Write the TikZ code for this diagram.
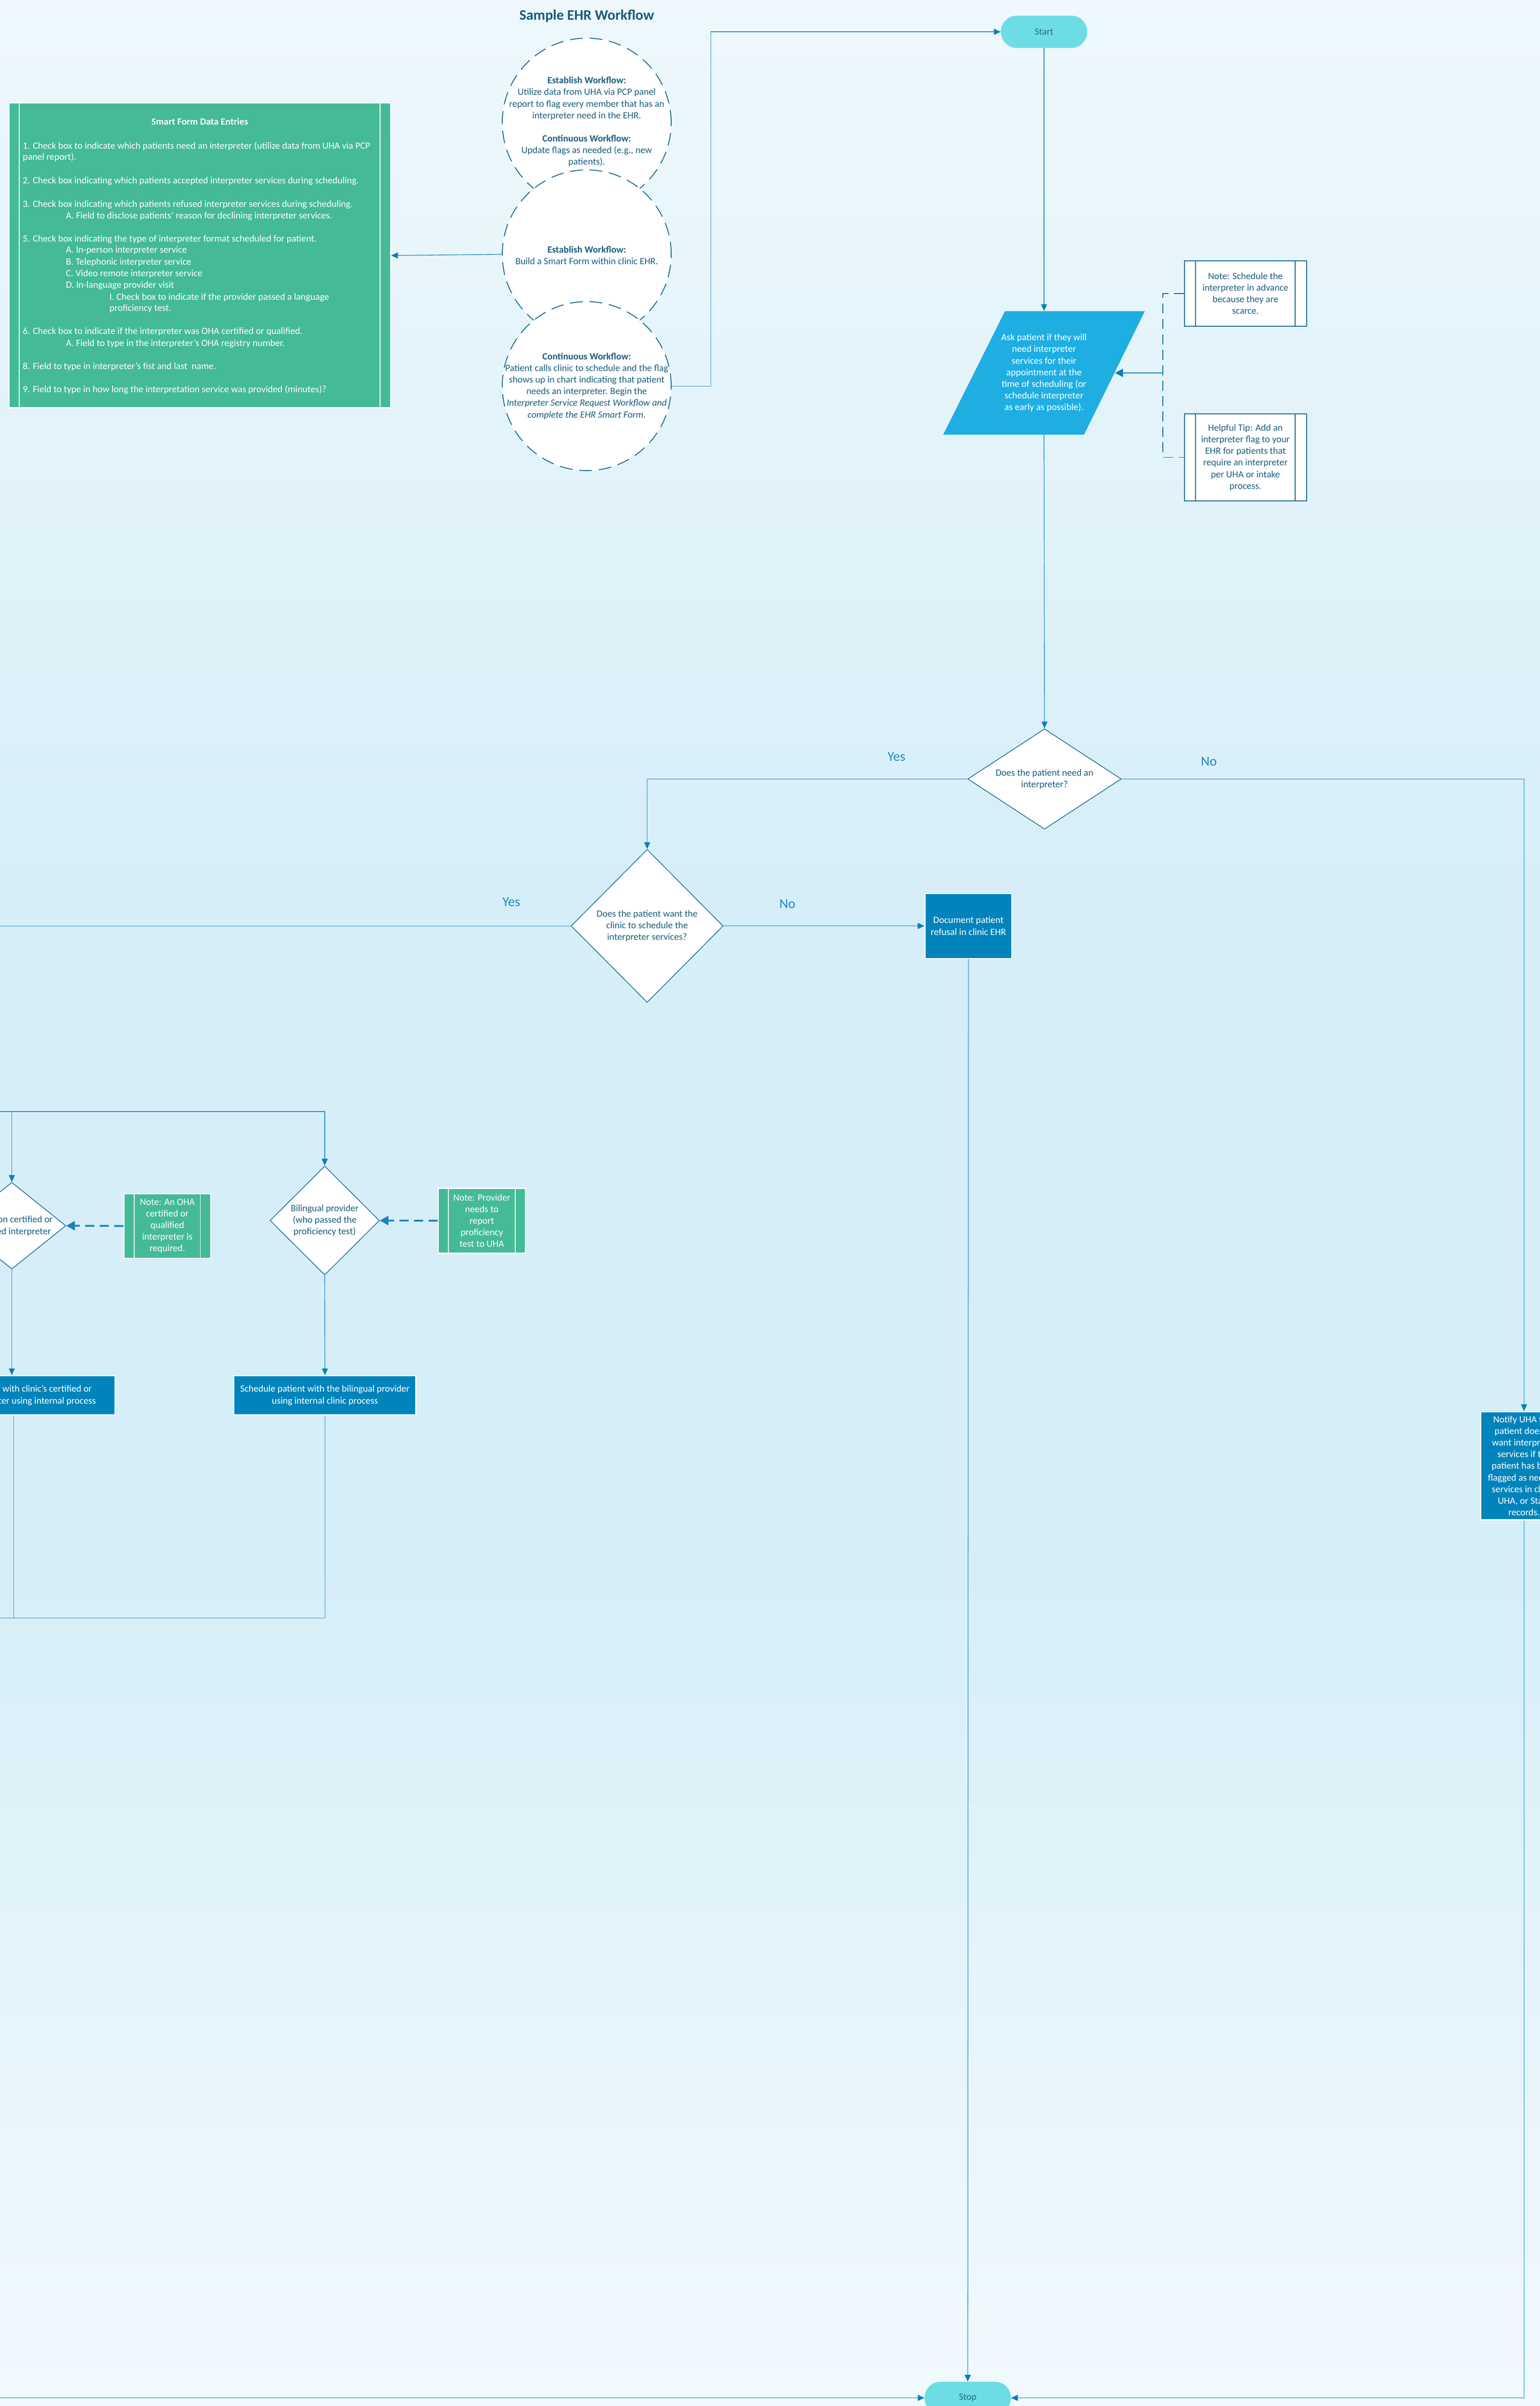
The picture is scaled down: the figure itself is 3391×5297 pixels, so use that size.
\documentclass[tikz,border=0pt]{standalone}
\usepackage{fontspec}
\setmainfont{Carlito}
\usetikzlibrary{shapes.geometric,arrows.meta}
\newcommand\myfs[2]{\fontsize{#1}{#2}\selectfont}
\newcommand\sidebars[3]{\draw[#3] ([xshift=#2]#1.north west) -- ([xshift=#2]#1.south west) ([xshift=-#2]#1.north east) -- ([xshift=-#2]#1.south east);}
\definecolor{bgA}{HTML}{F1F9FE}
\definecolor{bgB}{HTML}{E6F5FB}
\definecolor{bgC}{HTML}{D6EEF8}
\definecolor{bgD}{HTML}{E3F3FA}
\definecolor{bgE}{HTML}{EEF8FD}
\definecolor{titlecol}{HTML}{175A7C}
\definecolor{textdark}{HTML}{1B5E80}
\definecolor{termfill}{HTML}{6CDDE5}
\definecolor{termtext}{HTML}{1E6C82}
\definecolor{parafill}{HTML}{1FAEE2}
\definecolor{procfill}{HTML}{0084BB}
\definecolor{greenfill}{HTML}{44BA96}
\definecolor{notedraw}{HTML}{1B6B97}
\definecolor{diadraw}{HTML}{1D6F99}
\definecolor{circdraw}{HTML}{1B6E96}
\definecolor{linedark}{HTML}{2A8CC2}
\definecolor{linelight}{HTML}{6EB9D9}
\definecolor{tipblue}{HTML}{0C7EB8}
\definecolor{ynblue}{HTML}{1F8AC2}
\definecolor{dashblue}{HTML}{1B80B8}
\pgfdeclareverticalshading{bgshade}{100bp}{color(0bp)=(bgA); color(25bp)=(bgA); color(32.5bp)=(bgB); color(42.5bp)=(bgC); color(56bp)=(bgC); color(66bp)=(bgD); color(75bp)=(bgE); color(100bp)=(bgE)}
\begin{document}
\begin{tikzpicture}[x=1pt,y=-1pt,
  every node/.style={font=\myfs{21}{25.6},align=center,inner sep=0pt},
  circ/.style={circle,draw=circdraw,line width=2pt,dash pattern=on 28pt off 15pt,fill=white,minimum size=372pt},
  ctext/.style={text=textdark},
  note/.style={rectangle,draw=notedraw,fill=white,line width=2pt,text=textdark},
  greenbox/.style={rectangle,draw=white,fill=greenfill,line width=2.5pt,text=white},
  proc/.style={rectangle,draw=white,fill=procfill,line width=2.5pt,text=white},
  term/.style={rectangle,rounded corners=35pt,fill=termfill,text=termtext,minimum width=190pt,minimum height=71pt},
  dia/.style={diamond,draw=diadraw,fill=white,line width=1.6pt,text=textdark},
  conn/.style={draw=linedark,line width=1.5pt},
  connL/.style={draw=linelight,line width=2.4pt},
  arr/.style={-{Triangle[length=15pt,width=13pt,color=tipblue]}},
  bigarr/.style={-{Triangle[length=18pt,width=18pt,color=tipblue]}},
  dasharr/.style={draw=dashblue,line width=4pt,dash pattern=on 20pt off 12pt,-{Triangle[length=19pt,width=20pt]}},
  bracket/.style={draw=notedraw,line width=2pt,dash pattern=on 22pt off 12pt},
  yn/.style={font=\myfs{30}{36},text=ynblue},
  formline/.style={anchor=base west,text=white,align=left}
]
% background
\shade[shading=bgshade] (0,0) rectangle (3391,5297);
\useasboundingbox (0,0) rectangle (3391,5297);

% title
\node[font=\bfseries\myfs{32}{38},text=titlecol] (title) at (1292,35) {Sample EHR Workflow};

% circles
\node[circ] (c1) at (1292,270) {};
\node[ctext] (c1t) at (1292,268) {\textbf{Establish Workflow:}\\Utilize data from UHA via PCP panel\\report to flag every member that has an\\interpreter need in the EHR.\\[25.6pt]\textbf{Continuous Workflow:}\\Update flags as needed (e.g., new\\patients).};
\node[circ] (c2) at (1292,560) {};
\node[ctext] (c2t) at (1292,562) {\textbf{Establish Workflow:}\\Build a Smart Form within clinic EHR.};
\node[circ] (c3) at (1292,850) {};
\node[ctext] (c3t) at (1292,850) {\textbf{Continuous Workflow:}\\Patient calls clinic to schedule and the flag\\shows up in chart indicating that patient\\needs an interpreter. Begin the\\\textit{Interpreter Service Request Workflow and}\\\textit{complete the EHR Smart Form.}};

% smart form box
\node[greenbox,minimum width=840pt,minimum height=671pt] (form) at (440,562.5) {};
\sidebars{form}{24pt}{white,line width=2pt}
\node[font=\bfseries\myfs{21}{25.6},text=white] (formt) at (440,268) {Smart Form Data Entries};
\node[formline] (f1) at (50,328) {1. Check box to indicate which patients need an interpreter (utilize data from UHA via PCP};
\node[formline] (f2) at (50,352) {panel report).};
\node[formline] (f3) at (50,404) {2. Check box indicating which patients accepted interpreter services during scheduling.};
\node[formline] (f4) at (50,456) {3. Check box indicating which patients refused interpreter services during scheduling.};
\node[formline] (f5) at (145,481) {A. Field to disclose patients’ reason for declining interpreter services.};
\node[formline] (f6) at (50,532) {5. Check box indicating the type of interpreter format scheduled for patient.};
\node[formline] (f7) at (145,557) {A. In-person interpreter service};
\node[formline] (f8) at (145,583) {B. Telephonic interpreter service};
\node[formline] (f9) at (145,609) {C. Video remote interpreter service};
\node[formline] (f10) at (145,634) {D. In-language provider visit};
\node[formline] (f11) at (241,660) {I. Check box to indicate if the provider passed a language};
\node[formline] (f12) at (241,685) {proficiency test.};
\node[formline] (f13) at (50,736) {6. Check box to indicate if the interpreter was OHA certified or qualified.};
\node[formline] (f14) at (145,762) {A. Field to type in the interpreter’s OHA registry number.};
\node[formline] (f15) at (50,813) {8. Field to type in interpreter’s fist and last\ \ name.};
\node[formline] (f16) at (50,864) {9. Field to type in how long the interpretation service was provided (minutes)?};

% start / stop
\node[term] (start) at (2299,70) {Start};
\node[term] (stop) at (2131,5279) {Stop};

% parallelogram
\coordinate (pTL) at (2213,685);
\coordinate (pTR) at (2521,685);
\coordinate (pBR) at (2387,957);
\coordinate (pBL) at (2077,957);
\fill[parafill] (pTL) -- (pTR) -- (pBR) -- (pBL) -- cycle;
\node[text=white,minimum width=444pt,minimum height=272pt] (para) at (2299,821) {Ask patient if they will\\need interpreter\\services for their\\appointment at the\\time of scheduling (or\\schedule interpreter\\as early as possible).};
\coordinate (paraR) at (2455,821);

% notes at right
\node[note,minimum width=269pt,minimum height=144pt] (n1) at (2742.5,646) {Note: Schedule the\\interpreter in advance\\because they are\\scarce.};
\sidebars{n1}{26pt}{notedraw,line width=2pt}
\node[note,minimum width=269pt,minimum height=192pt] (n2) at (2742.5,1007) {Helpful Tip: Add an\\interpreter flag to your\\EHR for patients that\\require an interpreter\\per UHA or intake\\process.};
\sidebars{n2}{26pt}{notedraw,line width=2pt}
\coordinate (brk) at (2561,821);

% decisions
\node[dia,minimum width=338pt,minimum height=221pt,aspect=1.53] (d1) at (2300,1715) {Does the patient need an\\interpreter?};
\node[dia,minimum width=335pt,minimum height=337pt] (d2) at (1425,2038.5) {Does the patient want the\\clinic to schedule the\\interpreter services?};
\node[proc,minimum width=191pt,minimum height=143pt] (doc) at (2132.5,2038.5) {Document patient\\refusal in clinic EHR};
\node[proc,minimum width=190pt,minimum height=238pt] (notify) at (3356,3227) {Notify UHA that\\patient doesn’t\\want interpreter\\services if the\\patient has been\\flagged as needing\\services in clinic,\\UHA, or State\\records.};

\node[yn] (yes1) at (1974,1666) {Yes};
\node[yn] (no1) at (2662,1676) {No};
\node[yn] (yes2) at (1126,1986) {Yes};
\node[yn] (no2) at (1734,1990) {No};

% middle section
\node[dia,minimum width=238pt,minimum height=191pt] (d3) at (26,2698.5) {};
\node[text=textdark] (d3t) at (26,2699) {In-person certified or\\qualified interpreter};
\node[dia,minimum width=241pt,minimum height=240pt] (d4) at (715,2687) {Bilingual provider\\(who passed the\\proficiency test)};
\node[greenbox,minimum width=191pt,minimum height=142pt] (n4) at (368.5,2699) {Note: An OHA\\certified or\\qualified\\interpreter is\\required.};
\sidebars{n4}{24pt}{white,line width=2pt}
\node[greenbox,minimum width=192pt,minimum height=143pt] (n3) at (1061,2687.5) {Note: Provider\\needs to\\report\\proficiency\\test to UHA};
\sidebars{n3}{24pt}{white,line width=2pt}
\node[proc,minimum width=446pt,minimum height=86pt] (b1) at (30,3072) {Schedule patient with clinic’s certified or\\qualified interpreter using internal process};
\node[proc,minimum width=401pt,minimum height=86pt] (b2) at (715.5,3072) {Schedule patient with the bilingual provider\\using internal clinic process};

% off-page coordinates
\coordinate (offA) at (-60,2038.5);
\coordinate (offB) at (-60,2447);
\coordinate (split) at (26,2447);
\coordinate (offD) at (-60,3562);
\coordinate (offC) at (-60,5279);

% connectors
\draw[conn,arr] (c3.east) -- ++(86,0) |- (start.west);
\draw[conn,arr] (c2.west) -- (form.east);
\draw[conn,arr] (start.south) -- (para.north);
\draw[conn,arr] (para.south) -- (d1.north);
\draw[bracket] (n1.west) -| (brk) |- (n2.west);
\draw[draw=dashblue,line width=2pt,bigarr] (brk) -- (paraR);
\draw[connL,arr] (d1.west) -| (d2.north);
\draw[connL,arr] (d1.east) -| (notify.north);
\draw[conn] (d2.west) -- (offA);
\draw[connL,arr] (d2.east) -- (doc.west);
\draw[connL,arr] (doc.south) -- (stop.north);
\draw[connL,arr] (notify.south) |- (stop.east);
\draw[connL,arr] (offC) -- (stop.west);
\draw[conn,arr] (offB) -| (d4.north);
\draw[conn,arr] (split) -- (d3.north);
\draw[dasharr] (n3.west) -- (d4.east);
\draw[dasharr] (n4.west) -- (d3.east);
\draw[conn,arr] (d4.south) -- (b2.north);
\draw[conn,arr] (d3.south) -- (d3.south |- b1.north);
\draw[conn] (b2.south) |- (offD);
\draw[conn] (b1.south) -- (b1.south |- offD);
\end{tikzpicture}
\end{document}
